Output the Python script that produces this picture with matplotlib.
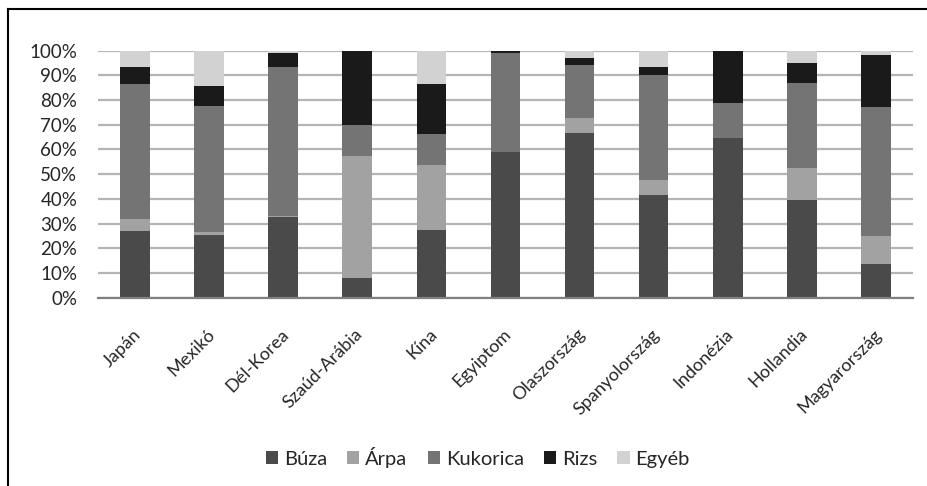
import matplotlib
matplotlib.use("Agg")
import matplotlib.pyplot as plt
import numpy as np
from matplotlib.lines import Line2D
from matplotlib.patches import Patch
from matplotlib.ticker import FuncFormatter
from matplotlib.transforms import ScaledTranslation

plt.rcParams['font.family'] = ['Lato', 'DejaVu Sans']

countries = ["Japán", "Mexikó", "Dél-Korea", "Szaúd-Arábia", "Kína", "Egyiptom",
             "Olaszország", "Spanyolország", "Indonézia", "Hollandia", "Magyarország"]

# share of each grain in total consumption, percent
buza = [27.0, 25.5, 32.8, 8.1, 27.3, 59.1, 66.7, 41.4, 64.8, 39.4, 13.6]
arpa = [5.0, 1.1, 0.3, 49.3, 26.3, 0.0, 6.2, 6.2, 0.0, 13.2, 11.4]
kukorica = [54.5, 51.0, 60.2, 12.6, 12.8, 39.8, 21.2, 42.5, 14.1, 34.4, 52.1]
rizs = [6.8, 8.1, 5.6, 30.0, 20.1, 1.1, 3.1, 3.2, 21.1, 7.9, 21.0]
egyeb = [6.7, 14.3, 1.1, 0.0, 13.5, 0.0, 2.8, 6.7, 0.0, 5.1, 1.9]

series = [("Búza", buza, "#4a4a4a"),
          ("Árpa", arpa, "#a2a2a2"),
          ("Kukorica", kukorica, "#747474"),
          ("Rizs", rizs, "#1a1a1a"),
          ("Egyéb", egyeb, "#d2d2d2")]

text_color = '#262626'

fig = plt.figure(figsize=(9.28, 4.86), dpi=100)
ax = fig.add_axes((98 / 928, 1 - 297.7 / 486, 815 / 928, 247 / 486))

x = np.arange(len(countries))
bottom = np.zeros(len(countries))
for name, vals, color in series:
    vals = np.array(vals)
    ax.bar(x, vals, width=0.4, bottom=bottom, color=color, zorder=3)
    bottom += vals

ax.set_xlim(-0.5, len(countries) - 0.5)
ax.set_ylim(0, 100)
ax.set_yticks(np.arange(0, 101, 10))
ax.yaxis.set_major_formatter(FuncFormatter(lambda v, _: f"{v:.0f}%"))
ax.grid(axis='y', color='#b5b5b5', linewidth=1.6, zorder=0)

for s in ['top', 'right', 'left']:
    ax.spines[s].set_visible(False)
ax.spines['bottom'].set_color('#808080')
ax.spines['bottom'].set_linewidth(1.6)
ax.spines['bottom'].set_zorder(4)

ax.tick_params(axis='y', length=0, pad=15, labelsize=13.5, labelcolor=text_color)
ax.tick_params(axis='x', length=0, pad=0, labelsize=13, labelcolor=text_color)
ax.set_xticks(x)
ax.set_xticklabels(countries, rotation=45, ha='right', va='center',
                   rotation_mode='anchor')
shift = ScaledTranslation(3 / 100, -34 / 100, fig.dpi_scale_trans)
for lbl in ax.get_xticklabels():
    lbl.set_transform(lbl.get_transform() + shift)

handles = [Patch(facecolor=c, edgecolor='none', label=n) for n, _, c in series]
fig.legend(handles=handles, loc='center', bbox_to_anchor=(0.515, 1 - 457 / 486),
           ncol=5, frameon=False, fontsize=14.5, handlelength=0.6, handleheight=0.6,
           handletextpad=0.3, columnspacing=1.0, labelcolor=text_color)

# outer frame on the left and top edges
fig.add_artist(Line2D([7.5 / 928, 7.5 / 928], [0, 1 - 9 / 486], color='black', linewidth=1.5))
fig.add_artist(Line2D([7.5 / 928, 1], [1 - 9 / 486, 1 - 9 / 486], color='black', linewidth=1.5))

fig.savefig("out.png", dpi=100)
